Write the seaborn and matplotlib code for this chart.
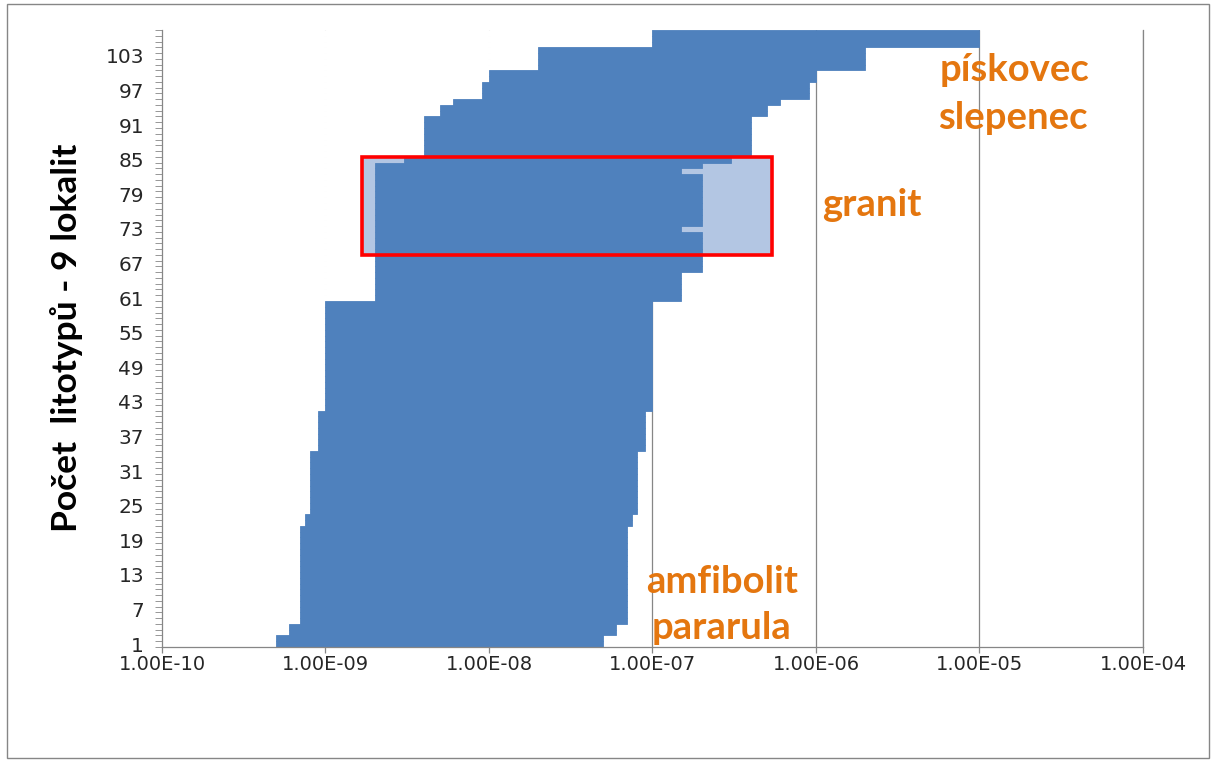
import numpy as np
import pandas as pd
import matplotlib
matplotlib.use("Agg")
import matplotlib.pyplot as plt
import matplotlib.ticker as mticker
from matplotlib.patches import Rectangle
import seaborn as sns

# ---------------- data ----------------
rows = list(range(1, 108))

low = [5e-10, 5e-10, 6e-10, 6e-10,
       7e-10, 7e-10, 7e-10, 7e-10, 7e-10, 7e-10, 7e-10, 7e-10, 7e-10, 7e-10,
       7e-10, 7e-10, 7e-10, 7e-10, 7e-10, 7e-10, 7e-10,
       7.5e-10, 7.5e-10,
       8e-10, 8e-10, 8e-10, 8e-10, 8e-10, 8e-10, 8e-10, 8e-10, 8e-10, 8e-10, 8e-10,
       9e-10, 9e-10, 9e-10, 9e-10, 9e-10, 9e-10, 9e-10,
       1e-9, 1e-9, 1e-9, 1e-9, 1e-9, 1e-9, 1e-9, 1e-9, 1e-9, 1e-9,
       1e-9, 1e-9, 1e-9, 1e-9, 1e-9, 1e-9, 1e-9, 1e-9, 1e-9,
       2e-9, 2e-9, 2e-9, 2e-9, 2e-9, 2e-9, 2e-9, 2e-9, 2e-9, 2e-9, 2e-9, 2e-9,
       2e-9, 2e-9, 2e-9, 2e-9, 2e-9, 2e-9, 2e-9, 2e-9, 2e-9, 2e-9, 2e-9, 2e-9,
       3e-9,
       4e-9, 4e-9, 4e-9, 4e-9, 4e-9, 4e-9, 4e-9,
       5e-9, 5e-9,
       6e-9,
       9e-9, 9e-9, 9e-9,
       1e-8, 1e-8,
       2e-8, 2e-8, 2e-8, 2e-8,
       1e-7, 1e-7, 1e-7]

high = [5e-8, 5e-8, 6e-8, 6e-8,
        7e-8, 7e-8, 7e-8, 7e-8, 7e-8, 7e-8, 7e-8, 7e-8, 7e-8, 7e-8,
        7e-8, 7e-8, 7e-8, 7e-8, 7e-8, 7e-8, 7e-8,
        7.5e-8, 7.5e-8,
        8e-8, 8e-8, 8e-8, 8e-8, 8e-8, 8e-8, 8e-8, 8e-8, 8e-8, 8e-8, 8e-8,
        9e-8, 9e-8, 9e-8, 9e-8, 9e-8, 9e-8, 9e-8,
        1e-7, 1e-7, 1e-7, 1e-7, 1e-7, 1e-7, 1e-7, 1e-7, 1e-7, 1e-7,
        1e-7, 1e-7, 1e-7, 1e-7, 1e-7, 1e-7, 1e-7, 1e-7, 1e-7,
        1.5e-7, 1.5e-7, 1.5e-7, 1.5e-7, 1.5e-7,
        2e-7, 2e-7, 2e-7, 2e-7, 2e-7, 2e-7, 2e-7,
        1.5e-7,
        2e-7, 2e-7, 2e-7, 2e-7, 2e-7, 2e-7, 2e-7, 2e-7, 2e-7,
        1.5e-7,
        2e-7,
        3e-7,
        4e-7, 4e-7, 4e-7, 4e-7, 4e-7, 4e-7, 4e-7,
        5e-7, 5e-7,
        6e-7,
        9e-7, 9e-7, 9e-7,
        1e-6, 1e-6,
        2e-6, 2e-6, 2e-6, 2e-6,
        1e-5, 1e-5, 1e-5]

ytick_labels = [1, 7, 13, 19, 25, 31, 37, 43, 49, 55, 61, 67, 73, 79, 85, 91, 97, 103]
xtick_values = [1e-10, 1e-9, 1e-8, 1e-7, 1e-6, 1e-5, 1e-4]

# highlighted "granit" block
granit_rows = (68.5, 85.5)
granit_span = (1.68e-9, 5.35e-7)

ylabel_text = "Počet  litotypů - 9 lokalit"
annotations = [
    ("pískovec", 0.793, 0.935),
    ("slepenec", 0.791, 0.857),
    ("granit", 0.673, 0.716),
    ("amfibolit", 0.494, 0.105),
    ("pararula", 0.499, 0.031),
]

# ---------------- style ----------------
sns.set_style("white")
plt.rcParams["font.family"] = ["DejaVu Sans"]

BLUE = "#4F81BD"
LIGHT = "#B3C6E3"
GRID = "#868686"
ORANGE = "#E4760F"

df = pd.DataFrame({"row": rows, "low": low, "high": high})
df["span"] = df["high"] - df["low"]

fig = plt.figure(figsize=(12.12, 7.63), dpi=100)
L, R, T, B = 162, 1143, 30, 647
ax = fig.add_axes([L / 1212, 1 - B / 763, (R - L) / 1212, (B - T) / 763])

# white base segment (hides gridlines left of the ranges, like the Excel chart)
sns.barplot(data=df, x="low", y="row", orient="y", native_scale=True,
            log_scale=(True, False), color="white", saturation=1, width=1.0,
            linewidth=0.6, edgecolor="white", errorbar=None, ax=ax, zorder=1)

# light highlight fill (behind the ranges)
ax.add_patch(Rectangle((granit_span[0], granit_rows[0]),
                       granit_span[1] - granit_span[0],
                       granit_rows[1] - granit_rows[0],
                       facecolor=LIGHT, edgecolor="none", zorder=1.5))

# floating range bars
sns.barplot(data=df, x="span", y="row", orient="y", native_scale=True,
            log_scale=(True, False), color=BLUE, saturation=1, width=1.0,
            linewidth=0.6, edgecolor=BLUE, errorbar=None, ax=ax, zorder=2,
            left=df["low"].to_numpy())

# red frame
ax.add_patch(Rectangle((granit_span[0], granit_rows[0]),
                       granit_span[1] - granit_span[0],
                       granit_rows[1] - granit_rows[0],
                       fill=False, edgecolor="#FF0000", linewidth=2.6,
                       joinstyle="miter", zorder=4))

# ---------------- axes ----------------
ax.set_xscale("log")
ax.set_xlim(xtick_values[0], xtick_values[-1])
ax.set_ylim(rows[0] - 0.5, rows[-1] + 0.5)
ax.set_xticks(xtick_values)
ax.xaxis.set_minor_locator(mticker.NullLocator())
ax.xaxis.set_major_formatter(mticker.FuncFormatter(lambda v, p: f"{v:.2E}"))
ax.set_yticks(ytick_labels)
ax.set_yticklabels([str(v) for v in ytick_labels])
ax.yaxis.set_minor_locator(mticker.FixedLocator([r - 0.5 for r in rows] + [rows[-1] + 0.5]))

ax.set_axisbelow(True)
ax.xaxis.grid(True, which="major", color=GRID, linewidth=0.9)
ax.yaxis.grid(False)

ax.spines["top"].set_visible(False)
for side in ["left", "bottom", "right"]:
    ax.spines[side].set_color(GRID)
    ax.spines[side].set_linewidth(0.9)

ax.tick_params(axis="x", which="major", direction="out", length=4, width=0.9,
               color=GRID, labelsize=14, pad=2, bottom=True)
ax.tick_params(axis="y", which="major", length=0, labelsize=14.5, pad=13, left=True)
ax.tick_params(axis="y", which="minor", direction="out", length=5, width=0.6,
               color=GRID, left=True)
ax.set_xlabel("")
ax.set_ylabel("")

# y label
fig.text(67 / 1212, 1 - 338 / 763, ylabel_text, rotation=90, ha="center", va="center",
         fontsize=25.5, fontweight="bold", family=["Lato", "DejaVu Sans"], color="black")

# category annotations
for txt, xa, ya in annotations:
    ax.text(xa, ya, txt, transform=ax.transAxes, ha="left", va="center",
            fontsize=27.5, fontweight="bold", family=["Lato", "DejaVu Sans"],
            color=ORANGE, zorder=6)

# chart border
fig.patches.append(Rectangle((7 / 1212, 5 / 763), (1209 - 7) / 1212, (759 - 5) / 763,
                             transform=fig.transFigure, fill=False,
                             edgecolor=GRID, linewidth=1.0))

fig.savefig("out.png", dpi=100)
